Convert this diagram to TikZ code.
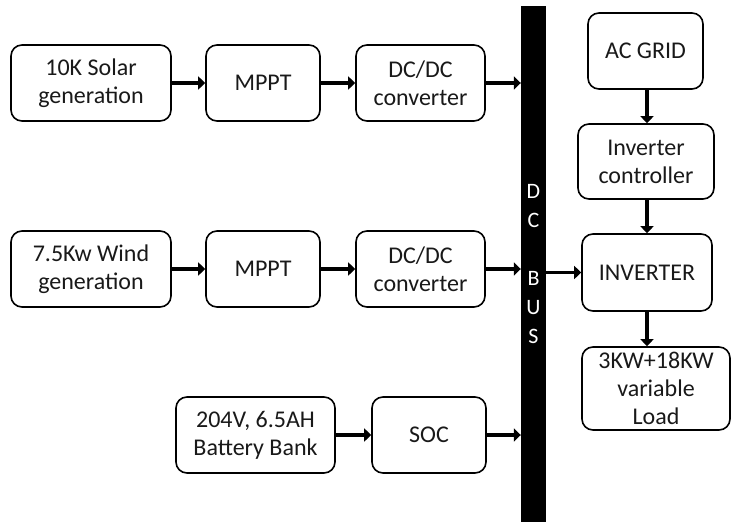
\documentclass[tikz,border=0pt]{standalone}
\usepackage{fontspec}
\setmainfont{Carlito}
\usetikzlibrary{arrows.meta}
\begin{document}
\begin{tikzpicture}[x=1pt,y=-1pt,
  blk/.style={draw=black, line width=1.6pt, rounded corners=11pt, align=center,
    inner sep=0pt, font=\fontsize{24}{28}\selectfont, text=black!90},
  arr/.style={line width=3.5pt, -{Triangle[length=7pt,width=13pt]}, shorten >=0pt}]
\useasboundingbox (0,0) rectangle (731,522);
\fill[white] (0,0) rectangle (731,522);
% DC bus
\node[fill=black, minimum width=25pt, minimum height=516pt, inner sep=0pt,
  text=white, align=center, font=\fontsize{22}{29}\selectfont] (bus) at (533.5,264)
  {D\\C\\[0pt]\mbox{}\\B\\U\\S};
% left blocks
\node[blk, minimum width=160pt, minimum height=76pt] (solar) at (91,83) {10K Solar\\generation};
\node[blk, minimum width=114pt, minimum height=76pt] (mppta) at (263,83) {MPPT};
\node[blk, minimum width=129pt, minimum height=76pt] (dcdca) at (420.5,83) {DC/DC\\converter};
\node[blk, minimum width=160pt, minimum height=76pt] (wind) at (91,269) {7.5Kw Wind\\generation};
\node[blk, minimum width=114pt, minimum height=76pt] (mpptb) at (263,269) {MPPT};
\node[blk, minimum width=129pt, minimum height=76pt] (dcdcb) at (420.5,269) {DC/DC\\converter};
\node[blk, minimum width=159pt, minimum height=76pt] (batt) at (255.5,435) {204V, 6.5AH\\Battery Bank};
\node[blk, minimum width=114pt, minimum height=76pt] (soc) at (429,435) {SOC};
% right blocks
\node[blk, minimum width=115pt, minimum height=76pt] (grid) at (645.5,51) {AC GRID};
\node[blk, minimum width=136pt, minimum height=75pt] (ictl) at (646,161.5) {Inverter\\controller};
\node[blk, minimum width=130pt, minimum height=77pt] (inv) at (647,272.5) {INVERTER};
\node[blk, minimum width=148pt, minimum height=83pt] (load) at (656,388.5) {3KW+18KW\\variable\\Load};
% arrows
\draw[arr] (solar) -- (mppta);
\draw[arr] (mppta) -- (dcdca);
\draw[arr] (dcdca.east) -- (dcdca.east -| bus.west);
\draw[arr] (wind) -- (mpptb);
\draw[arr] (mpptb) -- (dcdcb);
\draw[arr] (dcdcb.east) -- (dcdcb.east -| bus.west);
\draw[arr] (batt) -- (soc);
\draw[arr] (soc.east) -- (soc.east -| bus.west);
\draw[arr] (bus.east |- inv.west) -- (inv.west);
\draw[arr] (grid.south -| 647,0) -- (ictl.north -| 647,0);
\draw[arr] (ictl.south -| 647,0) -- (inv.north -| 647,0);
\draw[arr] (inv.south -| 647,0) -- (load.north -| 647,0);
\end{tikzpicture}
\end{document}
